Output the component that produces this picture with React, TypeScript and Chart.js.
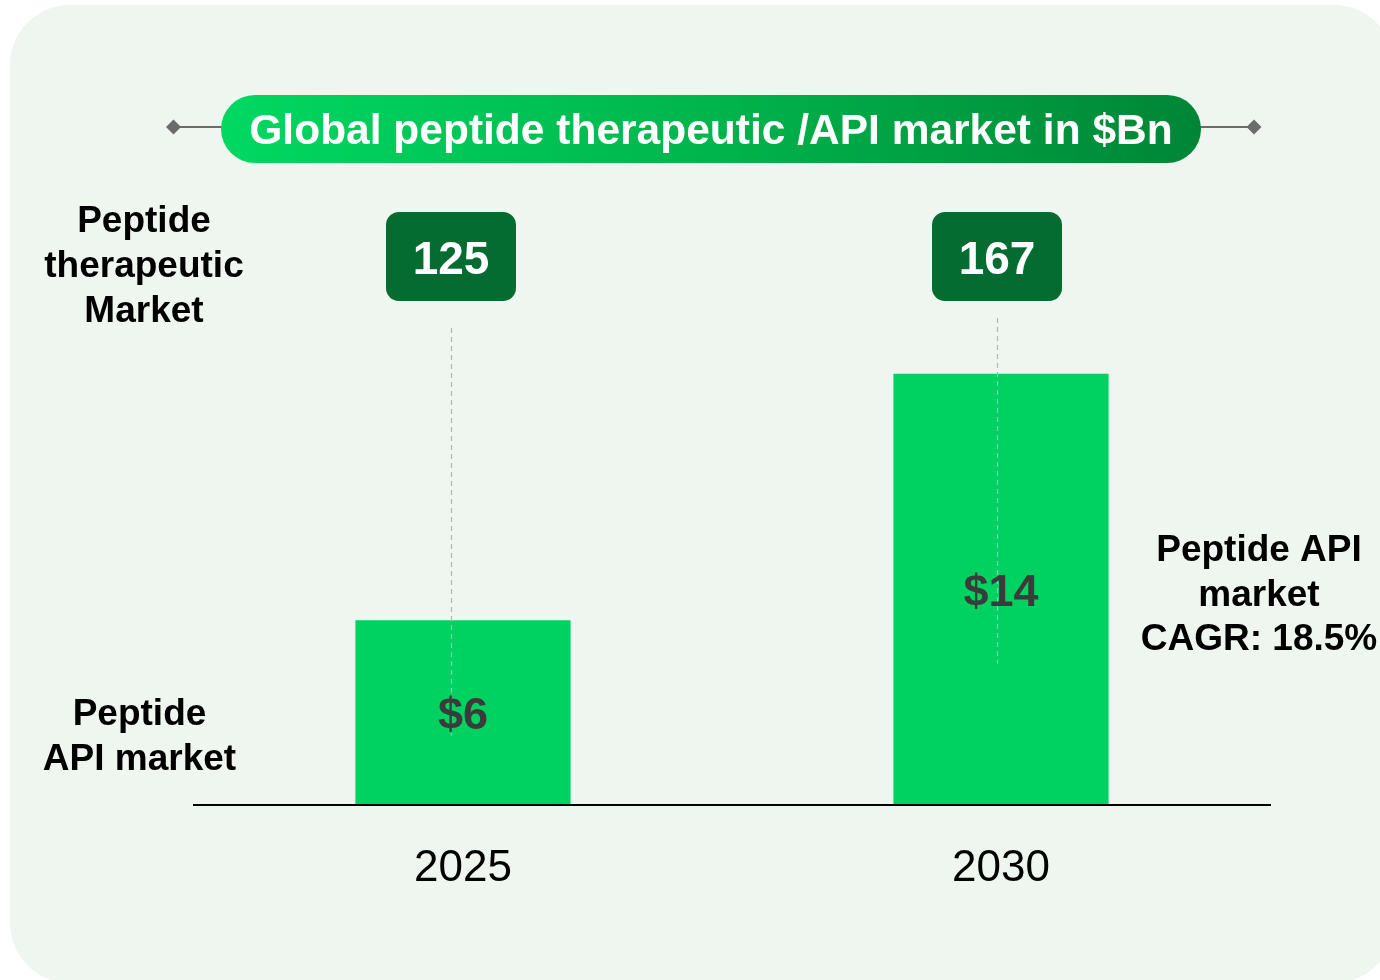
import React, { useEffect, useRef } from "react";
import { Chart, registerables } from "chart.js";

Chart.register(...registerables);

// ---- data ----
const years = ["2025", "2030"];
const apiMarket = [6, 14]; // Peptide API market, $Bn
const therapeuticMarket = [125, 167]; // Peptide therapeutic market, $Bn
const valuePrefix = "$";

const titleText = "Global peptide therapeutic /API market in $Bn";
const leftTopLabel = ["Peptide", "therapeutic", "Market"];
const leftBottomLabel = ["Peptide", "API market"];
const rightLabel = ["Peptide API", "market", "CAGR: 18.5%"];

// ---- style ----
const FONT = '"Liberation Sans", Arial, Helvetica, sans-serif';
const BAR_COLOR = "#00d262";
const BOX_COLOR = "#046b31";
const PANEL_COLOR = "#eff5ef";
const VALUE_COLOR = "#3b3b3b";
const BOX_X_SHIFT = [-12, -4];
const DASH_TOP_GAP = [27, 17];
const DASH_BELOW_LABEL = [19, 70];

function roundRect(ctx: CanvasRenderingContext2D, x: number, y: number, w: number, h: number, r: number) {
  ctx.beginPath();
  ctx.moveTo(x + r, y);
  ctx.lineTo(x + w - r, y);
  ctx.arcTo(x + w, y, x + w, y + r, r);
  ctx.lineTo(x + w, y + h - r);
  ctx.arcTo(x + w, y + h, x + w - r, y + h, r);
  ctx.lineTo(x + r, y + h);
  ctx.arcTo(x, y + h, x, y + h - r, r);
  ctx.lineTo(x, y + r);
  ctx.arcTo(x, y, x + r, y, r);
  ctx.closePath();
}

function diamond(ctx: CanvasRenderingContext2D, cx: number, cy: number, s: number) {
  ctx.beginPath();
  ctx.moveTo(cx - s, cy);
  ctx.lineTo(cx, cy - s);
  ctx.lineTo(cx + s, cy);
  ctx.lineTo(cx, cy + s);
  ctx.closePath();
  ctx.fill();
}

function multiline(ctx: CanvasRenderingContext2D, lines: string[], cx: number, firstY: number, step: number) {
  lines.forEach((l, i) => ctx.fillText(l, cx, firstY + i * step));
}

const decorPlugin = {
  id: "decor",
  beforeDraw(chart: any) {
    const ctx: CanvasRenderingContext2D = chart.ctx;
    ctx.save();
    ctx.fillStyle = "#ffffff";
    ctx.fillRect(0, 0, chart.width, chart.height);
    ctx.fillStyle = PANEL_COLOR;
    roundRect(ctx, 10, 5, 1384, 978, 60);
    ctx.fill();

    // title connectors
    ctx.strokeStyle = "#6b6b6b";
    ctx.fillStyle = "#6b6b6b";
    ctx.lineWidth = 2;
    ctx.beginPath();
    ctx.moveTo(174, 127);
    ctx.lineTo(224, 127);
    ctx.moveTo(1198, 127);
    ctx.lineTo(1254, 127);
    ctx.stroke();
    diamond(ctx, 173.5, 127, 7.5);
    diamond(ctx, 1254, 127, 7.5);

    // title pill
    const g = ctx.createLinearGradient(221, 0, 1201, 0);
    g.addColorStop(0, "#00d862");
    g.addColorStop(0.5, "#00b54c");
    g.addColorStop(1, "#008536");
    ctx.fillStyle = g;
    roundRect(ctx, 221, 95, 980, 68, 34);
    ctx.fill();
    ctx.fillStyle = "#ffffff";
    ctx.font = `bold 42.5px ${FONT}`;
    ctx.textAlign = "center";
    ctx.textBaseline = "middle";
    ctx.fillText(titleText, 711, 132);

    // side labels
    ctx.fillStyle = "#000000";
    ctx.font = `bold 37px ${FONT}`;
    multiline(ctx, leftTopLabel, 144, 222, 45);
    multiline(ctx, leftBottomLabel, 139.5, 715, 45);
    multiline(ctx, rightLabel, 1259, 551, 44.5);
    ctx.restore();
  },
  afterDatasetsDraw(chart: any) {
    const ctx: CanvasRenderingContext2D = chart.ctx;
    const meta = chart.getDatasetMeta(0);
    ctx.save();
    meta.data.forEach((bar: any, i: number) => {
      const cx = bar.x + BOX_X_SHIFT[i];
      const labelY = (bar.y + bar.base) / 2 + 4;
      const boxTop = 212;
      const boxH = 89;
      // dashed connector
      ctx.strokeStyle = "#b4b4b4";
      ctx.lineWidth = 1.2;
      ctx.setLineDash([5, 4]);
      ctx.beginPath();
      ctx.moveTo(Math.round(cx) + 0.5, boxTop + boxH + DASH_TOP_GAP[i]);
      ctx.lineTo(Math.round(cx) + 0.5, labelY + DASH_BELOW_LABEL[i]);
      ctx.stroke();
      ctx.setLineDash([]);

      // therapeutic box
      ctx.fillStyle = BOX_COLOR;
      roundRect(ctx, cx - 65, boxTop, 130, boxH, 13);
      ctx.fill();
      ctx.fillStyle = "#ffffff";
      ctx.font = `bold 46px ${FONT}`;
      ctx.textAlign = "center";
      ctx.textBaseline = "middle";
      ctx.fillText(String(therapeuticMarket[i]), cx, boxTop + boxH / 2 + 5);

      // bar value
      ctx.fillStyle = VALUE_COLOR;
      ctx.font = `bold 45px ${FONT}`;
      ctx.fillText(valuePrefix + apiMarket[i], bar.x, labelY);
    });
    ctx.restore();
  },
};

export default function App() {
  const ref = useRef<HTMLCanvasElement | null>(null);
  useEffect(() => {
    if (!ref.current) return;
    const chart = new Chart(ref.current, {
      type: "bar",
      data: {
        labels: years,
        datasets: [
          {
            data: apiMarket,
            backgroundColor: BAR_COLOR,
            barPercentage: 0.4,
            categoryPercentage: 1,
          },
        ],
      },
      options: {
        responsive: false,
        animation: false,
        devicePixelRatio: 1,
        layout: { padding: { left: 194, right: 110, top: 189, bottom: 48 } },
        plugins: { legend: { display: false }, tooltip: { enabled: false } },
        scales: {
          x: {
            grid: { display: false, drawTicks: false },
            border: { display: true, color: "#000000", width: 2, z: 1 },
            ticks: { font: { family: FONT, size: 44 }, color: "#000000", padding: 37 },
          },
          y: { display: false, min: 0, max: 20 },
        },
      },
      plugins: [decorPlugin],
    } as any);
    return () => chart.destroy();
  }, []);
  return (
    <div style={{ position: "absolute", left: 0, top: 0, width: 1380, height: 980 }}>
      <canvas ref={ref} width={1380} height={980} style={{ width: 1380, height: 980, display: "block" }} />
    </div>
  );
}
